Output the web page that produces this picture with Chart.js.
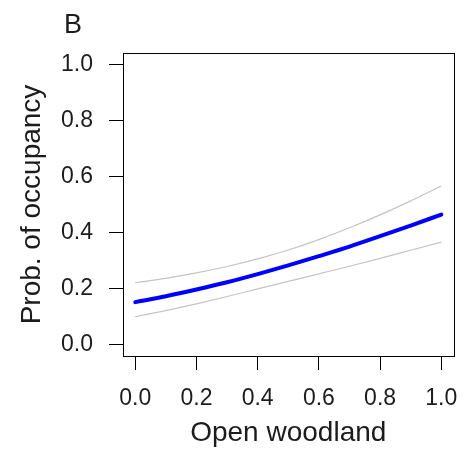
<!DOCTYPE html>
<html>
<head>
<meta charset="utf-8">
<script src="https://cdn.jsdelivr.net/npm/chart.js@4/dist/chart.umd.min.js"></script>
<style>
  html, body { margin: 0; padding: 0; background: #ffffff; }
  #wrap { width: 473px; height: 453px; }
</style>
</head>
<body>
<div id="wrap"><canvas id="c" width="473" height="453"></canvas></div>
<script>
// Proportion of open woodland around each site
const openWoodland = [0.0, 0.1, 0.2, 0.3, 0.4, 0.5, 0.6, 0.7, 0.8, 0.9, 1.0];
// Fitted probability of occupancy and its confidence band
const fitted = [0.152, 0.173, 0.197, 0.223, 0.252, 0.283, 0.316, 0.350, 0.387, 0.425, 0.464];
const upperCI = [0.221, 0.237, 0.256, 0.279, 0.306, 0.338, 0.375, 0.417, 0.463, 0.513, 0.566];
const lowerCI = [0.100, 0.122, 0.146, 0.172, 0.199, 0.226, 0.253, 0.280, 0.308, 0.337, 0.366];
// Axis tick positions
const xTicks = [0.0, 0.2, 0.4, 0.6, 0.8, 1.0];
const yTicks = [0.0, 0.2, 0.4, 0.6, 0.8, 1.0];

const FONT = '"Liberation Sans", Arial, sans-serif';
const INK = '#1c1c1c';

const toPoints = (ys) => openWoodland.map((x, i) => ({ x: x, y: ys[i] }));

// Box around the plot region plus the panel letter
const frame = {
  id: 'frame',
  afterDraw(chart) {
    const { ctx, chartArea: a } = chart;
    ctx.save();
    ctx.strokeStyle = '#000';
    ctx.lineWidth = 1;
    ctx.strokeRect(Math.round(a.left) + 0.5, Math.round(a.top) + 0.5,
                   Math.round(a.right - a.left), Math.round(a.bottom - a.top));
    ctx.fillStyle = INK;
    ctx.font = '27px ' + FONT;
    ctx.textBaseline = 'alphabetic';
    ctx.textAlign = 'left';
    ctx.fillText('B', 64, 33);
    ctx.restore();
  }
};

const fixTicks = (vals) => (scale) => {
  scale.ticks = vals.map(v => ({ value: v }));
};

new Chart(document.getElementById('c'), {
  type: 'line',
  data: {
    datasets: [
      { label: 'upper', data: toPoints(upperCI), borderColor: '#c4c4c4', borderWidth: 1.2,
        pointRadius: 0, cubicInterpolationMode: 'monotone', fill: false },
      { label: 'lower', data: toPoints(lowerCI), borderColor: '#c4c4c4', borderWidth: 1.2,
        pointRadius: 0, cubicInterpolationMode: 'monotone', fill: false },
      { label: 'fitted', data: toPoints(fitted), borderColor: '#0000ff', borderWidth: 4,
        pointRadius: 0, cubicInterpolationMode: 'monotone', fill: false, borderCapStyle: 'round' }
    ]
  },
  options: {
    responsive: false,
    animation: false,
    events: [],
    layout: { padding: { top: 53, right: 19, left: 0, bottom: 0 } },
    plugins: { legend: { display: false }, tooltip: { enabled: false }, title: { display: false } },
    scales: {
      x: {
        type: 'linear',
        min: -0.04,
        max: 1.04,
        afterBuildTicks: fixTicks(xTicks),
        afterFit(scale) { scale.height = 97; },
        border: { display: false },
        grid: { drawOnChartArea: false, drawTicks: true, tickLength: 14, color: '#000', lineWidth: 1 },
        ticks: {
          padding: 15,
          color: INK,
          font: { family: FONT, size: 23 },
          maxRotation: 0,
          autoSkip: false,
          callback: (v) => Number(v).toFixed(1)
        },
        title: {
          display: true,
          text: 'Open woodland',
          color: INK,
          font: { family: FONT, size: 28 },
          padding: { top: 0, bottom: 3 }
        }
      },
      y: {
        type: 'linear',
        min: -0.04,
        max: 1.04,
        afterBuildTicks: fixTicks(yTicks),
        afterFit(scale) { scale.width = 123; },
        border: { display: false },
        grid: { drawOnChartArea: false, drawTicks: true, tickLength: 14, color: '#000', lineWidth: 1 },
        ticks: {
          padding: 16,
          color: INK,
          font: { family: FONT, size: 23 },
          autoSkip: false,
          callback: (v) => Number(v).toFixed(1)
        },
        title: {
          display: true,
          text: 'Prob. of occupancy',
          color: INK,
          font: { family: FONT, size: 28 },
          padding: { top: 15, bottom: 0 }
        }
      }
    }
  },
  plugins: [frame]
});
</script>
</body>
</html>
